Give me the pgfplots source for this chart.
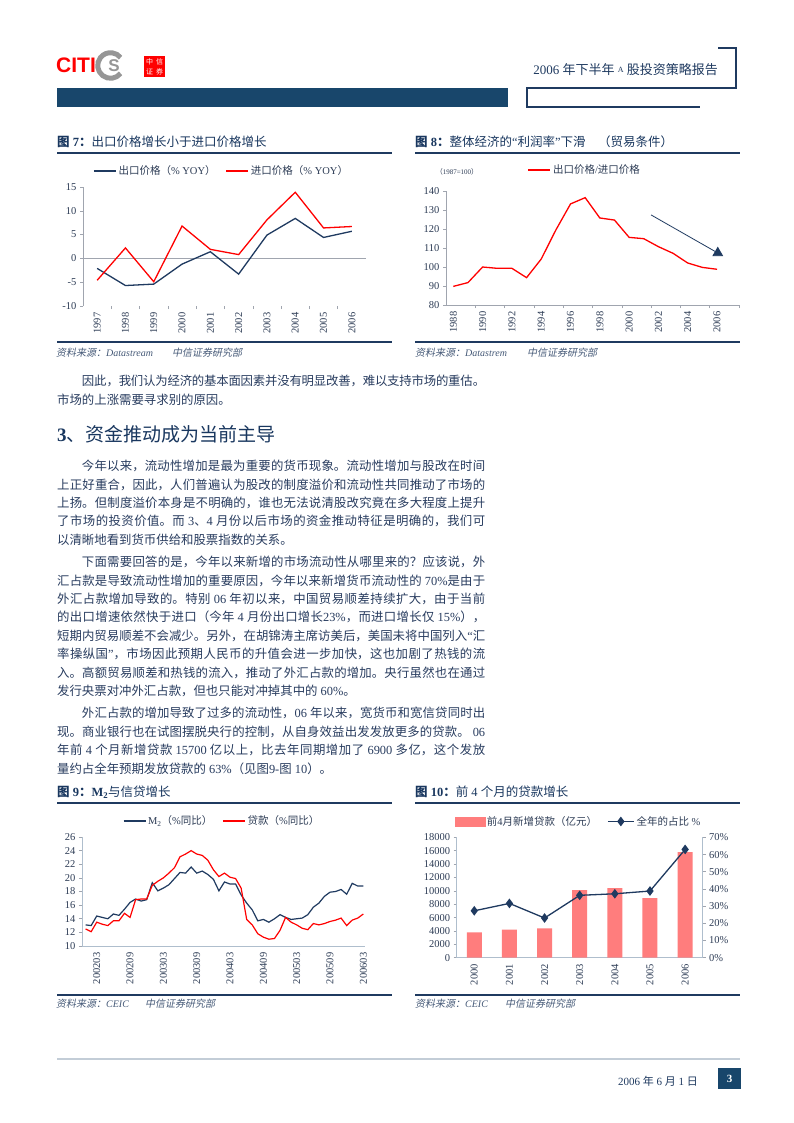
\documentclass[border=0pt]{standalone}
\usepackage{fontspec}
\setmainfont{Liberation Serif}
\newfontfamily\cjk{Noto Sans CJK SC}[ItalicFont={Noto Sans CJK SC},ItalicFeatures={FakeSlant=0.2}]
\newfontfamily\sansfont{Liberation Sans}
\usepackage{pgfplots}
\usepackage{pgfplotstable}
\pgfplotsset{compat=1.18}

% automatic switch to the CJK font for Chinese characters
\XeTeXinterchartokenstate=1
\newcount\cc
\def\setcls#1#2{\cc=#1\relax\loop\XeTeXcharclass\cc=7\relax\advance\cc by 1\relax\ifnum\cc<#2\relax\repeat}
\setcls{"3000}{"3040}
\setcls{"4E00}{"A000}
\setcls{"FF00}{"FFF0}
\XeTeXinterchartoks 0 7 = {\cjk}
\XeTeXinterchartoks 4095 7 = {\cjk}
\XeTeXinterchartoks 7 0 = {\rmfamily}
\XeTeXinterchartoks 7 4095 = {\rmfamily}

\definecolor{navy}{RGB}{31,58,96}
\definecolor{titlec}{RGB}{25,55,95}
\definecolor{bodyc}{RGB}{40,60,95}
\definecolor{srcc}{RGB}{70,90,120}
\definecolor{barc}{RGB}{24,70,107}
\definecolor{axc}{RGB}{160,165,175}
\definecolor{axc2}{RGB}{175,190,205}
\definecolor{tickc}{RGB}{45,60,85}
\definecolor{salmon}{RGB}{255,125,125}
\definecolor{footc}{RGB}{195,205,215}
\definecolor{logogray}{RGB}{150,150,150}

\newcommand\bodyfont{\fontsize{12.4bp}{14bp}\selectfont}
\newcommand\tickfont{\fontsize{10.5bp}{12bp}\selectfont}
\newcommand\legfont{\fontsize{10.5bp}{12bp}\selectfont}
\newcommand\srcfont{\fontsize{10bp}{12bp}\selectfont\itshape}
\newcommand\titlefont{\fontsize{12.5bp}{14bp}\selectfont}

% justified line / last line
\newcommand\JL[3]{\node[anchor=base west,inner sep=0pt] at (#1,#2) {\parbox[b]{\dimexpr485bp-#1bp\relax}{\bodyfont\color{bodyc}\XeTeXlinebreaklocale "zh"\XeTeXlinebreakskip=0pt plus 5pt minus 1pt\relax\parfillskip=0pt\relax\noindent#3}};}
\newcommand\LL[3]{\node[anchor=base west,inner sep=0pt,text=bodyc,font=\bodyfont] at (#1,#2) {#3};}

\pgfplotsset{
  rep/.style={
    scale only axis, clip=false,
    axis line style={draw=axc, line width=0.7bp},
    tick style={draw=axc, line width=0.6bp},
    major tick length=3bp, minor tick length=3bp,
    tick align=outside,
    ticklabel style={font=\tickfont, text=tickc},
    /pgf/number format/assume math mode=true,
    /pgf/number format/1000 sep={},
    scaled y ticks=false, scaled x ticks=false,
    legend style={draw=none, fill=none, font=\legfont, text=tickc, inner sep=0pt,
      /tikz/every even column/.append style={column sep=8bp}},
    legend columns=-1,
    legend image code/.code={\draw[##1] (0bp,0bp) -- (22bp,0bp);},
  },
  diamleg/.style={legend image code/.code={\draw[mark repeat=2,mark phase=2,##1] plot coordinates {(0bp,0bp) (13bp,0bp) (26bp,0bp)};}},
  barleg/.style={legend image code/.code={\fill[salmon] (0bp,-4.5bp) rectangle (30bp,4.5bp);}},
}

\pgfplotstableread{
m m2 loan
0 13.1 12.5
1 13.0 12.1
2 14.4 13.5
3 14.2 13.2
4 14.0 13.0
5 14.7 13.7
6 14.5 13.7
7 15.4 14.8
8 16.4 14.2
9 16.9 16.8
10 16.6 16.9
11 16.8 16.9
12 19.3 18.9
13 18.1 19.5
14 18.5 20.0
15 19.0 20.7
16 19.9 21.5
17 20.8 23.1
18 20.7 23.5
19 21.6 24.0
20 20.7 23.5
21 21.0 23.3
22 20.5 22.6
23 19.8 21.2
24 18.1 20.2
25 19.4 20.7
26 19.1 20.1
27 19.1 19.9
28 17.5 18.5
29 16.3 13.9
30 15.3 13.1
31 13.7 11.8
32 13.9 11.3
33 13.5 11.0
34 14.0 11.1
35 14.6 12.3
36 14.2 14.2
37 13.9 13.5
38 14.0 13.1
39 14.1 12.6
40 14.6 12.4
41 15.7 13.3
42 16.3 13.1
43 17.3 13.3
44 17.9 13.6
45 18.0 13.8
46 18.3 14.1
47 17.6 13.0
48 19.2 13.8
49 18.8 14.1
50 18.8 14.7
}\mtab

\begin{document}
\begin{tikzpicture}
\fill[white] (0,0) rectangle (794bp,-1123bp);
\useasboundingbox (0,0) rectangle (794bp,-1123bp);
\begin{scope}[x=1bp,y=-1bp]
% ---------- header / logo
\node[anchor=west, inner sep=0pt, text=red, font=\sansfont\bfseries\fontsize{21bp}{21bp}\selectfont] at (56,65.5) {CITI};
\draw[logogray, line width=5bp] (110.5,65.5) ++(38:12.8) arc (38:322:12.8);
\node[text=logogray, font=\sansfont\bfseries\fontsize{17bp}{17bp}\selectfont, inner sep=0pt] at (114,66) {S};
\fill[red] (144,56) rectangle (165,77);
\node[text=white, font=\fontsize{7bp}{9bp}\selectfont, inner sep=0pt] at (149.5,61.5) {中};
\node[text=white, font=\fontsize{7bp}{9bp}\selectfont, inner sep=0pt] at (159.5,61.5) {信};
\node[text=white, font=\fontsize{7bp}{9bp}\selectfont, inner sep=0pt] at (149.5,71.5) {证};
\node[text=white, font=\fontsize{7bp}{9bp}\selectfont, inner sep=0pt] at (159.5,71.5) {券};
\node[anchor=base east, inner sep=0pt, text=navy, font=\fontsize{13bp}{15bp}\selectfont] at (718,74.5) {2006 年下半年 \raisebox{2bp}{\fontsize{8bp}{9bp}\selectfont A} 股投资策略报告};
\draw[navy, line width=1.1bp] (718,48) -- (736,48) -- (736,88) -- (527,88) -- (527,107) -- (700,107);
\fill[barc] (57,88) rectangle (508,107);
% ---------- figure 7/8 titles
\node[anchor=base west, inner sep=0pt, text=titlec, font=\titlefont] at (57,146.5) {\textbf{图 7：}出口价格增长小于进口价格增长};
\node[anchor=base west, inner sep=0pt, text=titlec, font=\titlefont] at (415,146.5) {\textbf{图 8：}整体经济的“利润率”下滑\quad（贸易条件）};
\draw[navy, line width=1.3bp] (57,153) -- (392,153);
\draw[navy, line width=1.3bp] (415,153) -- (740,153);
\node[anchor=center, inner sep=0pt, text=tickc, font=\fontsize{7bp}{8bp}\selectfont] at (457,172) {（1987=100）};
\draw[navy, line width=1.3bp] (57,342) -- (392,342);
\draw[navy, line width=1.3bp] (415,342) -- (740,342);
\node[anchor=base west, inner sep=0pt, text=srcc, font=\srcfont] at (56,356) {资料来源：Datastream};
\node[anchor=base west, inner sep=0pt, text=srcc, font=\srcfont] at (172,356) {中信证券研究部};
\node[anchor=base west, inner sep=0pt, text=srcc, font=\srcfont] at (415,356) {资料来源：Datastrem};
\node[anchor=base west, inner sep=0pt, text=srcc, font=\srcfont] at (527,356) {中信证券研究部};
% ---------- body text
\JL{57}{385.6}{\hspace*{2em}因此，我们认为经济的基本面因素并没有明显改善，难以支持市场的重估。}
\LL{57}{404.3}{市场的上涨需要寻求别的原因。}
\node[anchor=base west, inner sep=0pt, text=titlec, font=\fontsize{19bp}{22bp}\selectfont] at (57,441) {\textbf{3}、资金推动成为当前主导};
\JL{57}{470.6}{\hspace*{2em}今年以来，流动性增加是最为重要的货币现象。流动性增加与股改在时间}
\JL{57}{489.0}{上正好重合，因此，人们普遍认为股改的制度溢价和流动性共同推动了市场的}
\JL{57}{507.4}{上扬。但制度溢价本身是不明确的，谁也无法说清股改究竟在多大程度上提升}
\JL{57}{525.8}{了市场的投资价值。而 3、4 月份以后市场的资金推动特征是明确的，我们可}
\LL{57}{544.2}{以清晰地看到货币供给和股票指数的关系。}
\JL{57}{566.6}{\hspace*{2em}下面需要回答的是，今年以来新增的市场流动性从哪里来的？应该说，外}
\JL{57}{585.0}{汇占款是导致流动性增加的重要原因，今年以来新增货币流动性的 70\%是由于}
\JL{57}{603.4}{外汇占款增加导致的。特别 06 年初以来，中国贸易顺差持续扩大，由于当前}
\JL{57}{621.8}{的出口增速依然快于进口（今年 4 月份出口增长23\%，而进口增长仅 15\%），}
\JL{57}{640.2}{短期内贸易顺差不会减少。另外，在胡锦涛主席访美后，美国未将中国列入“汇}
\JL{57}{658.6}{率操纵国”，市场因此预期人民币的升值会进一步加快，这也加剧了热钱的流}
\JL{57}{677.0}{入。高额贸易顺差和热钱的流入，推动了外汇占款的增加。央行虽然也在通过}
\LL{57}{695.4}{发行央票对冲外汇占款，但也只能对冲掉其中的 60\%。}
\JL{57}{717.8}{\hspace*{2em}外汇占款的增加导致了过多的流动性，06 年以来，宽货币和宽信贷同时出}
\JL{57}{736.2}{现。商业银行也在试图摆脱央行的控制，从自身效益出发发放更多的贷款。 06}
\JL{57}{754.6}{年前 4 个月新增贷款 15700 亿以上，比去年同期增加了 6900 多亿，这个发放}
\LL{57}{773.0}{量约占全年预期发放贷款的 63\%（见图9-图 10）。}
% ---------- figure 9/10 titles
\node[anchor=base west, inner sep=0pt, text=titlec, font=\titlefont] at (57,796.5) {\textbf{图 9：M\textsubscript{2}}与信贷增长};
\node[anchor=base west, inner sep=0pt, text=titlec, font=\titlefont] at (415,796.5) {\textbf{图 10：}前 4 个月的贷款增长};
\draw[navy, line width=1.3bp] (57,803) -- (392,803);
\draw[navy, line width=1.3bp] (415,803) -- (740,803);
\draw[navy, line width=1.3bp] (57,995) -- (392,995);
\draw[navy, line width=1.3bp] (415,995) -- (740,995);
\node[anchor=base west, inner sep=0pt, text=srcc, font=\srcfont] at (56,1007) {资料来源：CEIC};
\node[anchor=base west, inner sep=0pt, text=srcc, font=\srcfont] at (145,1007) {中信证券研究部};
\node[anchor=base west, inner sep=0pt, text=srcc, font=\srcfont] at (415,1007) {资料来源：CEIC};
\node[anchor=base west, inner sep=0pt, text=srcc, font=\srcfont] at (505,1007) {中信证券研究部};
% ---------- footer
\draw[footc, line width=2bp] (57,1059) -- (740,1059);
\node[anchor=base east, inner sep=0pt, text=navy, font=\fontsize{11bp}{12bp}\selectfont] at (698,1085) {2006 年 6 月 1 日};
\fill[barc] (718,1068) rectangle (741,1089);
\node[text=white, font=\bfseries\fontsize{11bp}{12bp}\selectfont] at (729.5,1078.5) {3};
\end{scope}

% ---------- chart 7
\begin{axis}[rep, at={(83bp,-306bp)}, anchor=south west, width=283bp, height=119bp,
  xmin=1996.5, xmax=2006.5, ymin=-10, ymax=15, ytick={-10,-5,0,5,10,15},
  xtick={1997,...,2006}, axis y line*=left, axis x line*=bottom,
  x axis line style={draw=none},
  every major x tick/.append style={draw=none},
  minor xtick={1997.5,1998.5,...,2005.5},
  every minor x tick/.append style={draw=axc},
  x tick label style={rotate=90, anchor=east},
  legend style={at={(0.49,1)}, anchor=south, yshift=8.5bp}]
\draw[axc, line width=0.7bp] (axis cs:1996.5,0) -- (axis cs:2006.5,0);
\addplot[navy, line width=1.3bp] coordinates {(1997,-2.1)(1998,-5.7)(1999,-5.4)(2000,-1.2)(2001,1.4)(2002,-3.3)(2003,4.9)(2004,8.4)(2005,4.4)(2006,5.7)};
\addlegendentry{出口价格（\% YOY）}
\addplot[red, line width=1.3bp] coordinates {(1997,-4.6)(1998,2.2)(1999,-4.9)(2000,6.8)(2001,1.9)(2002,0.8)(2003,8.1)(2004,13.9)(2005,6.4)(2006,6.7)};
\addlegendentry{进口价格（\% YOY）}
\end{axis}

% ---------- chart 8
\begin{axis}[rep, at={(446bp,-305bp)}, anchor=south west, width=293bp, height=114bp,
  xmin=1987.5, xmax=2007.5, ymin=80, ymax=140, ytick={80,90,...,140},
  xtick={1988,1990,...,2006}, axis y line*=left, axis x line*=bottom,
  every major x tick/.append style={draw=none},
  minor xtick={1989.5,1991.5,...,2007.5},
  every minor x tick/.append style={draw=axc},
  x tick label style={rotate=90, anchor=east},
  legend style={at={(0.474,1)}, anchor=south, yshift=13.5bp}]
\addplot[red, line width=1.3bp] coordinates {(1988,89.8)(1989,91.8)(1990,100.0)(1991,99.3)(1992,99.3)(1993,94.4)(1994,104.2)(1995,119.5)(1996,133.2)(1997,136.5)(1998,125.8)(1999,124.7)(2000,115.6)(2001,114.9)(2002,110.7)(2003,107.2)(2004,102.1)(2005,99.8)(2006,98.8)};
\addlegendentry{出口价格/进口价格}
\addplot[navy, line width=0.8bp, mark=triangle*, mark size=5.5bp, mark indices={2}, forget plot] coordinates {(2001.5,127.4)(2006.05,107.4)};
\end{axis}

% ---------- chart 9
\begin{axis}[rep, axis line style={draw=axc2, line width=0.8bp}, at={(82bp,-946bp)}, anchor=south west, width=283bp, height=109bp,
  xmin=-0.65, xmax=50.3, ymin=10, ymax=26, ytick={10,12,...,26},
  xtick={2,8,...,50}, xticklabels={200203,200209,200303,200309,200403,200409,200503,200509,200603},
  axis y line*=left, axis x line*=bottom, xtick style={draw=none},
  x tick label style={rotate=90, anchor=east},
  legend style={at={(0.495,1)}, anchor=south, yshift=8.5bp}]
\addplot[navy, line width=1.2bp] table[x=m, y=m2] {\mtab};
\addlegendentry{M\textsubscript{2}（\%同比）}
\addplot[red, line width=1.2bp] table[x=m, y=loan] {\mtab};
\addlegendentry{贷款（\%同比）}
\end{axis}

% ---------- chart 10 (bars, left axis)
\begin{axis}[rep, axis line style={draw=axc2, line width=0.8bp}, at={(456.7bp,-957.7bp)}, anchor=south west, width=246bp, height=120.3bp,
  xmin=-0.5, xmax=6.5, ymin=0, ymax=18000, ytick={0,2000,...,18000},
  xtick={0,...,6}, xticklabels={2000,2001,2002,2003,2004,2005,2006},
  axis y line*=left, axis x line*=bottom, xtick style={draw=none},
  x tick label style={rotate=90, anchor=east},
  ybar, bar width=15bp, bar shift=0bp]
\addplot[fill=salmon, draw=none] coordinates {(0,3800)(1,4200)(2,4400)(3,10100)(4,10400)(5,8900)(6,15800)};
\end{axis}
% ---------- chart 10 (line, right axis)
\begin{axis}[rep, axis line style={draw=axc2, line width=0.8bp}, at={(456.7bp,-957.7bp)}, anchor=south west, width=246bp, height=120.3bp,
  xmin=-0.5, xmax=6.5, ymin=0, ymax=70, ytick={0,10,...,70},
  yticklabel={\pgfmathprintnumber{\tick}\%},
  axis y line*=right, axis x line=none, xtick={},
  legend style={at={(0.495,1)}, anchor=south, yshift=8.5bp}]
\addlegendimage{barleg}
\addlegendentry{前4月新增贷款（亿元）}
\addplot[navy, line width=1.3bp, mark=diamond*, mark size=3.8bp, diamleg]
  coordinates {(0,27.3)(1,31.6)(2,23.1)(3,36.3)(4,37.2)(5,38.8)(6,63.0)};
\addlegendentry{全年的占比 \%}
\end{axis}
\end{tikzpicture}
\end{document}
